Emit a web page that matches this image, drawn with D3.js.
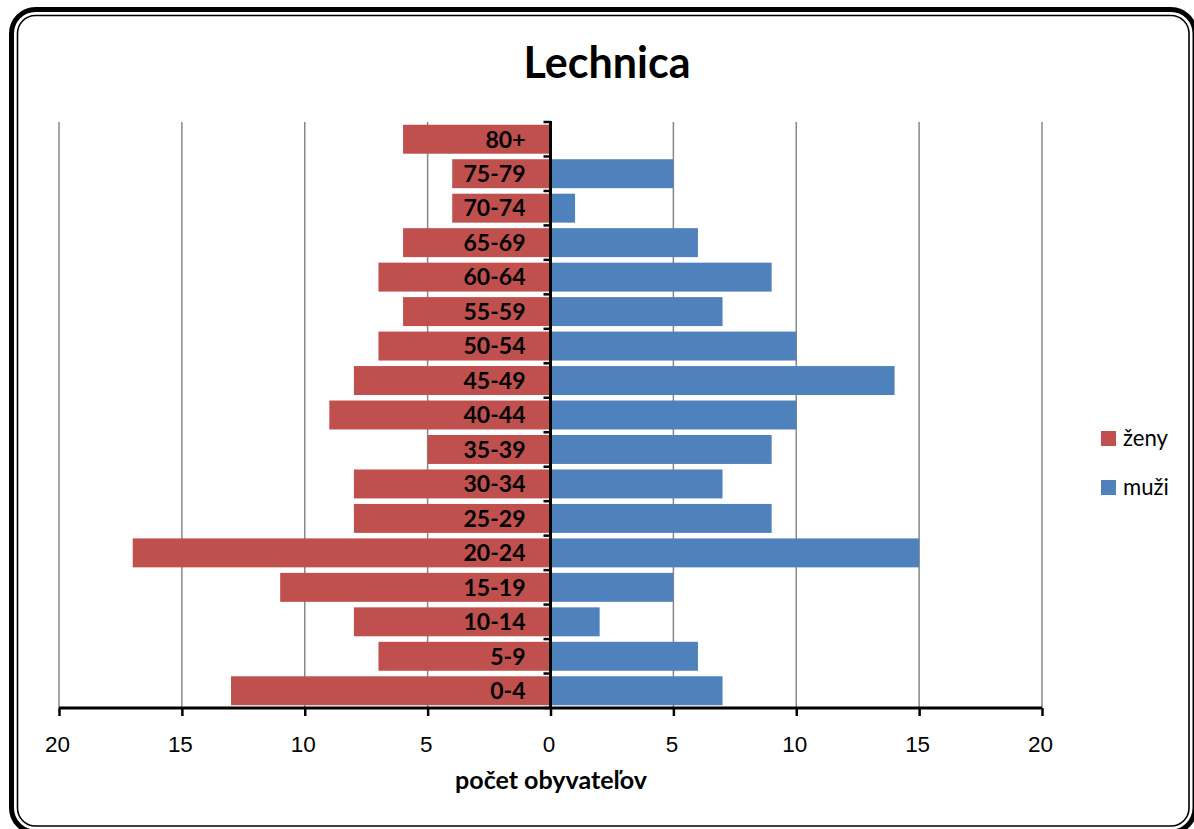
<!DOCTYPE html>
<html><head><meta charset="utf-8">
<script src="https://cdn.jsdelivr.net/npm/d3@7/dist/d3.min.js"></script>
<style>
html,body{margin:0;padding:0;background:#fff;}
svg{display:block;font-family:Lato,"Open Sans",sans-serif;}
</style></head>
<body>
<svg id="chart" width="1194" height="829"></svg>
<script>
const title = "Lechnica";
const xAxisTitle = "počet obyvateľov";
const categories = ["80+","75-79","70-74","65-69","60-64","55-59","50-54","45-49","40-44","35-39","30-34","25-29","20-24","15-19","10-14","5-9","0-4"];
const zeny = [6,4,4,6,7,6,7,8,9,5,8,8,17,11,8,7,13];
const muzi = [0,5,1,6,9,7,10,14,10,9,7,9,15,5,2,6,7];
const xTicks = [-20,-15,-10,-5,0,5,10,15,20];
const seriesNames = ["ženy","muži"];
const colors = ["#C0504D","#4F81BD"];

const svg = d3.select("#chart");

function fit(sel, target) {
  const node = sel.node();
  const s0 = parseFloat(sel.attr("font-size"));
  const len = node.getComputedTextLength();
  const s = s0 * target / len;
  sel.attr("font-size", s);
  return s;
}

// frame
svg.append("rect").attr("x",11.5).attr("y",9.5).attr("width",1183.5).attr("height",822.5)
  .attr("rx",24).attr("fill","none").attr("stroke","#000").attr("stroke-width",5);
svg.append("rect").attr("x",17.5).attr("y",15.5).attr("width",1171.5).attr("height",810.5)
  .attr("rx",18).attr("fill","none").attr("stroke","#000").attr("stroke-width",1.6);

const plotTop = 122, plotBottom = 708;
const x = d3.scaleLinear().domain([-20,20]).range([59,1042]);
const y = d3.scaleBand().domain(categories).range([plotTop,plotBottom]).paddingInner(0.16).paddingOuter(0.08);

// gridlines
svg.append("g").selectAll("line").data(xTicks.filter(d=>d!==0)).join("line")
  .attr("x1",d=>x(d)).attr("x2",d=>x(d)).attr("y1",plotTop).attr("y2",plotBottom)
  .attr("stroke","#878787").attr("stroke-width",1.5);

// bars
svg.append("g").selectAll("rect").data(categories).join("rect")
  .attr("x",(d,i)=>x(-zeny[i])).attr("width",(d,i)=>x(0)-x(-zeny[i]))
  .attr("y",d=>y(d)).attr("height",y.bandwidth()).attr("fill",colors[0]);
svg.append("g").selectAll("rect").data(categories).join("rect")
  .attr("x",x(0)).attr("width",(d,i)=>x(muzi[i])-x(0))
  .attr("y",d=>y(d)).attr("height",y.bandwidth()).attr("fill",colors[1]);

// x axis
const xAxis = d3.axisBottom(x).tickValues(xTicks).tickSize(8).tickFormat(d=>Math.abs(d));
const gx = svg.append("g").attr("transform",`translate(0,${plotBottom})`).call(xAxis);
gx.select(".domain").attr("stroke","#000").attr("stroke-width",3).attr("d",`M${x(-20)},0H${x(20)}`);
gx.selectAll(".tick line").attr("stroke","#000").attr("stroke-width",2.5);
const tickTexts = gx.selectAll(".tick text").attr("font-family",null).attr("font-size",20).attr("fill","#000")
  .attr("dy",null).attr("y",44).attr("dx",-2);
const tfs = fit(tickTexts.filter(d=>d===-20), 25);
tickTexts.attr("font-size", tfs);

// category axis ticks (band boundaries)
const step = y.step();
const bounds = d3.range(categories.length+1).map(i=>plotTop + i*step);
svg.append("g").selectAll("line").data(bounds).join("line")
  .attr("x1",x(0)-7).attr("x2",x(0)).attr("y1",d=>d).attr("y2",d=>d)
  .attr("stroke","#000").attr("stroke-width",2.5);
svg.append("line").attr("x1",x(0)).attr("x2",x(0)).attr("y1",plotTop-1).attr("y2",plotBottom+1)
  .attr("stroke","#000").attr("stroke-width",3);

// category labels
const labs = svg.append("g").selectAll("text").data(categories).join("text")
  .attr("x",x(0)-25).attr("y",d=>y(d)+y.bandwidth()/2+8.3)
  .attr("text-anchor","end").attr("font-weight","bold").attr("font-size",22).attr("fill","#000")
  .text(d=>d);
const ref = labs.filter(d=>d==="75-79");
const ls = fit(ref, 62);
labs.attr("font-size", ls);

// title
const t = svg.append("text").attr("x",607).attr("y",78).attr("text-anchor","middle")
  .attr("font-weight","bold").attr("font-size",40).attr("fill","#000").text(title);
fit(t,167);

// axis title
const at = svg.append("text").attr("x",551).attr("y",789).attr("text-anchor","middle")
  .attr("font-weight","bold").attr("font-size",18).attr("fill","#000").text(xAxisTitle);
fit(at,192);

// legend
const lg = svg.append("g").selectAll("g").data(seriesNames).join("g")
  .attr("transform",(d,i)=>`translate(1101,${431 + i*49})`);
lg.append("rect").attr("width",15).attr("height",15).attr("fill",(d,i)=>colors[i]);
const lt = lg.append("text").attr("x",22).attr("y",15).attr("font-size",20).attr("fill","#000").text(d=>d);
const lfs = fit(lt.filter(d=>d==="ženy"), 45);
lt.attr("font-size", lfs);
</script>
</body></html>
